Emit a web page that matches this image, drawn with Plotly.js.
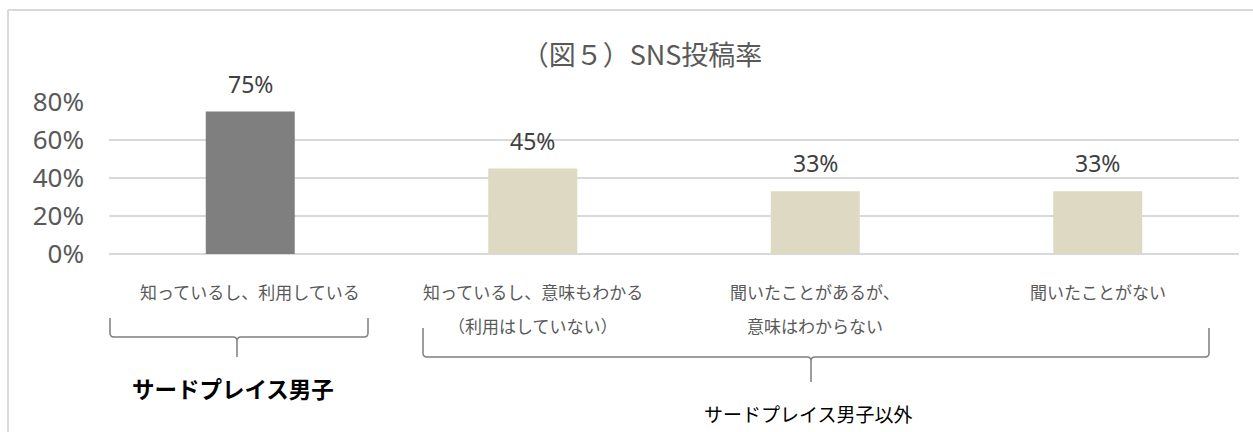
<!DOCTYPE html>
<html>
<head>
<meta charset="utf-8">
<script src="https://cdn.plot.ly/plotly-3.0.1.min.js"></script>
<style>
html,body{margin:0;padding:0;background:#fff;}
#chart{width:1253px;height:432px;}
</style>
</head>
<body>
<div id="chart"></div>
<script>
// ---- data ----
const categories = ['知っているし、利用している', '知っているし、意味もわかる（利用はしていない）', '聞いたことがあるが、意味はわからない', '聞いたことがない'];
const labelLine1 = ['知っているし、利用している', '知っているし、意味もわかる', '聞いたことがあるが、', '聞いたことがない'];
const labelLine2 = ['', '（利用はしていない）', '意味はわからない', ''];
const values = [75, 45, 33, 33];
const groupNames = ['サードプレイス男子', 'サードプレイス男子以外'];
const titleText = '（図５）SNS投稿率';
const yTicks = [0, 20, 40, 60, 80];

// ---- layout helpers (pixel -> paper) ----
const W = 1253, H = 432;
const M = {l: 109, r: 14, t: 102, b: 178};
const PW = W - M.l - M.r, PH = H - M.t - M.b;
const px = x => (x - M.l) / PW;
const py = y => (H - M.b - y) / PH;

const FONT = '"Noto Sans", "Noto Sans CJK JP", sans-serif';
const JFONT = '"Noto Sans CJK JP", "Noto Sans", sans-serif';

const barColors = values.map((v, i) => i === 0 ? '#7f7f7f' : '#ddd9c3');

const trace = {
  type: 'bar',
  x: categories,
  y: values,
  marker: {color: barColors, line: {width: 0}},
  hoverinfo: 'none',
  cliponaxis: false
};

const annotations = [];
categories.forEach((c, i) => {
  annotations.push({
    x: c, y: values[i], xref: 'x', yref: 'y',
    text: values[i] + '%', showarrow: false,
    xanchor: 'center', yanchor: 'middle', yshift: 28,
    font: {family: FONT, size: 23, color: '#404040'}
  });
  annotations.push({
    x: c, y: py(291), xref: 'x', yref: 'paper',
    text: labelLine1[i], showarrow: false, xanchor: 'center', yanchor: 'middle',
    font: {family: JFONT, size: 17, color: '#595959'}
  });
  if (labelLine2[i]) {
    annotations.push({
      x: c, y: py(325), xref: 'x', yref: 'paper',
      text: labelLine2[i], showarrow: false, xanchor: 'center', yanchor: 'middle',
      font: {family: JFONT, size: 17, color: '#595959'}
    });
  }
});
annotations.push({
  x: px(233), y: py(388), xref: 'paper', yref: 'paper',
  text: '<b>' + groupNames[0] + '</b>', showarrow: false, xanchor: 'center', yanchor: 'middle',
  font: {family: JFONT, size: 22.5, color: '#000000'}
});
annotations.push({
  x: px(808), y: py(414), xref: 'paper', yref: 'paper',
  text: groupNames[1], showarrow: false, xanchor: 'center', yanchor: 'middle',
  font: {family: JFONT, size: 19, color: '#000000'}
});

function brace(x0, x1, xc, yTop, yH, yTip) {
  const r = 4;
  const P = (x, y) => px(x) + ',' + py(y);
  return 'M' + P(x0, yTop) + ' L' + P(x0, yH - r) + ' Q' + P(x0, yH) + ' ' + P(x0 + r, yH) +
    ' L' + P(xc - r, yH) + ' Q' + P(xc, yH) + ' ' + P(xc, yH + r) + ' L' + P(xc, yTip) +
    ' M' + P(xc, yH + r) + ' Q' + P(xc, yH) + ' ' + P(xc + r, yH) +
    ' L' + P(x1 - r, yH) + ' Q' + P(x1, yH) + ' ' + P(x1, yH - r) + ' L' + P(x1, yTop);
}

const shapes = [
  {type: 'path', xref: 'paper', yref: 'paper', path: brace(110, 368, 237, 318, 337, 357),
   line: {color: '#7f7f7f', width: 1.5}},
  {type: 'path', xref: 'paper', yref: 'paper', path: brace(423, 1209, 811, 328, 357, 382),
   line: {color: '#7f7f7f', width: 1.5}},
  {type: 'line', xref: 'paper', yref: 'paper', x0: px(8), x1: px(1260), y0: py(10), y1: py(10),
   line: {color: '#d9d9d9', width: 2}},
  {type: 'line', xref: 'paper', yref: 'paper', x0: px(8), x1: px(8), y0: py(10), y1: py(440),
   line: {color: '#d9d9d9', width: 2}}
];

const layout = {
  width: W, height: H,
  margin: M,
  paper_bgcolor: '#ffffff', plot_bgcolor: '#ffffff',
  showlegend: false,
  bargap: 0.685,
  title: {
    text: titleText, xref: 'container', yref: 'container',
    x: 642 / W, y: 1 - 56 / H, xanchor: 'center', yanchor: 'middle',
    font: {family: JFONT, size: 27, color: '#595959'}
  },
  xaxis: {
    type: 'category', showticklabels: false, showgrid: false, zeroline: false,
    showline: false, ticks: '', fixedrange: true
  },
  yaxis: {
    range: [0, 80], tickvals: yTicks, ticktext: yTicks.map(v => v + '%'),
    showgrid: true, gridcolor: '#d9d9d9', gridwidth: 1.5,
    zeroline: true, zerolinecolor: '#d9d9d9', zerolinewidth: 1.5,
    showline: false, ticks: '', ticklabelstandoff: 24,
    tickfont: {family: FONT, size: 26, color: '#595959'}, fixedrange: true
  },
  annotations: annotations,
  shapes: shapes
};

Plotly.newPlot('chart', [trace], layout, {displayModeBar: false, staticPlot: true});
</script>
</body>
</html>
